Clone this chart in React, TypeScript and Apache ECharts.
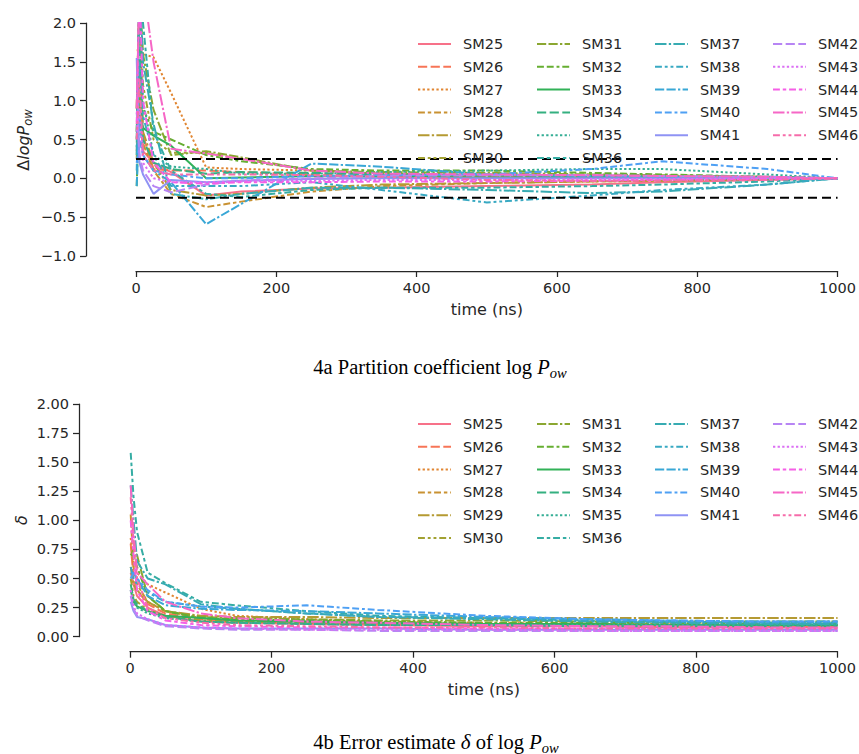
import React, { useEffect, useRef } from "react";
import * as echarts from "echarts";

// Sampling times of the convergence analysis (ns)
const TIME_NS = [1, 5, 10, 25, 50, 100, 150, 250, 350, 500, 650, 750, 900, 1000];

const MOLECULES = [
  "SM25", "SM26", "SM27", "SM28", "SM29", "SM30", "SM31", "SM32", "SM33", "SM34", "SM35",
  "SM36", "SM37", "SM38", "SM39", "SM40", "SM41", "SM42", "SM43", "SM44", "SM45", "SM46",
];

// Δ log Pow: running estimate minus the final (1000 ns) estimate
const DLOGP_SM25 = [0.35, 1.0, 0.35, 0.2, 0.08, -0.22, -0.17, -0.13, -0.12, -0.1, -0.08, -0.05, -0.02, 0];
const DLOGP_SM26 = [0.9, 2.5, 0.55, 0.12, 0.1, 0.1, 0.08, 0.05, 0.03, 0.02, 0.02, 0.01, 0.01, 0];
const DLOGP_SM27 = [1.65, 1.65, 1.6, 1.56, 1.1, 0.14, 0.12, 0.1, 0.06, 0.03, 0.02, 0.01, 0.0, 0];
const DLOGP_SM28 = [0.5, 1.3, 0.45, 0.1, -0.2, -0.37, -0.3, -0.17, -0.1, -0.06, -0.04, -0.03, -0.01, 0];
const DLOGP_SM29 = [0.25, 1.5, 0.6, 0.2, -0.15, -0.22, -0.2, -0.12, -0.08, -0.06, -0.04, -0.03, -0.01, 0];
const DLOGP_SM30 = [0.6, 2.3, 1.2, 0.5, 0.33, 0.33, 0.25, 0.1, 0.06, 0.05, 0.04, 0.03, 0.01, 0];
const DLOGP_SM31 = [0.9, 2.4, 1.6, 0.88, 0.3, 0.35, 0.27, 0.1, 0.08, 0.07, 0.05, 0.04, 0.02, 0];
const DLOGP_SM32 = [-0.1, 1.1, 0.9, 0.6, 0.5, 0.3, 0.22, 0.12, 0.1, 0.1, 0.07, 0.05, 0.02, 0];
const DLOGP_SM33 = [0.7, 0.7, 0.65, 0.55, 0.42, 0.0, 0.01, 0.03, 0.02, 0.01, 0.01, 0.0, 0.0, 0];
const DLOGP_SM34 = [0.6, 1.8, 0.5, 0.2, 0.12, 0.06, 0.08, 0.07, 0.05, 0.04, 0.03, 0.02, 0.01, 0];
const DLOGP_SM35 = [0.4, 2.5, 1.0, 0.3, 0.15, 0.12, 0.06, 0.06, 0.08, 0.1, 0.12, 0.12, 0.05, 0];
const DLOGP_SM36 = [0.5, 2.5, 2.0, 0.6, 0.1, -0.2, -0.24, -0.15, -0.12, -0.12, -0.1, -0.08, -0.04, 0];
const DLOGP_SM37 = [0.3, 2.5, 1.5, 0.7, -0.2, -0.27, -0.2, -0.12, -0.12, -0.15, -0.19, -0.17, -0.08, 0];
const DLOGP_SM38 = [0.1, 1.5, 0.8, 0.3, -0.1, -0.1, -0.1, -0.05, -0.15, -0.31, -0.22, -0.15, -0.08, 0];
const DLOGP_SM39 = [-0.1, 0.8, 0.3, 0.1, -0.05, -0.59, -0.33, 0.19, 0.15, 0.05, 0.03, 0.02, 0.01, 0];
const DLOGP_SM40 = [0.2, 0.5, 0.3, 0.1, 0.05, 0.0, 0.0, 0.03, 0.04, 0.05, 0.12, 0.22, 0.12, 0];
const DLOGP_SM41 = [1.55, 0.2, 0.05, -0.2, -0.02, -0.05, -0.03, -0.01, 0.0, 0.0, 0.0, 0.0, 0.0, 0];
const DLOGP_SM42 = [0.85, 0.3, 0.1, -0.1, -0.18, -0.08, -0.03, 0.0, 0.03, 0.04, 0.04, 0.03, 0.02, 0];
const DLOGP_SM43 = [0.6, 0.9, 0.2, 0.0, -0.05, -0.05, -0.04, -0.03, -0.02, -0.02, -0.01, -0.01, 0.0, 0];
const DLOGP_SM44 = [0.7, 2.5, 1.0, 0.2, -0.05, -0.07, -0.05, -0.05, -0.04, -0.04, -0.03, -0.02, -0.01, 0];
const DLOGP_SM45 = [0.9, 2.5, 2.5, 1.5, 0.38, 0.32, 0.25, 0.1, 0.06, 0.05, 0.04, 0.03, 0.02, 0];
const DLOGP_SM46 = [0.5, 1.3, 0.3, 0.1, 0.05, 0.05, 0.05, 0.04, 0.02, -0.02, -0.03, -0.03, -0.02, 0];

// δ: error estimate of log Pow
const DELTA_SM25 = [0.55, 0.45, 0.35, 0.25, 0.18, 0.13, 0.12, 0.11, 0.1, 0.09, 0.09, 0.08, 0.08, 0.08];
const DELTA_SM26 = [0.8, 0.5, 0.4, 0.28, 0.2, 0.15, 0.13, 0.12, 0.11, 0.1, 0.1, 0.09, 0.09, 0.09];
const DELTA_SM27 = [0.85, 0.6, 0.55, 0.45, 0.38, 0.24, 0.18, 0.15, 0.13, 0.12, 0.11, 0.11, 0.1, 0.1];
const DELTA_SM28 = [1.05, 0.6, 0.45, 0.3, 0.22, 0.16, 0.14, 0.13, 0.12, 0.11, 0.1, 0.1, 0.1, 0.1];
const DELTA_SM29 = [0.6, 0.45, 0.4, 0.3, 0.22, 0.18, 0.17, 0.17, 0.16, 0.16, 0.16, 0.16, 0.16, 0.16];
const DELTA_SM30 = [0.5, 0.35, 0.3, 0.23, 0.18, 0.14, 0.13, 0.12, 0.12, 0.11, 0.11, 0.11, 0.1, 0.1];
const DELTA_SM31 = [0.7, 0.75, 0.7, 0.35, 0.22, 0.17, 0.16, 0.15, 0.14, 0.14, 0.13, 0.13, 0.13, 0.13];
const DELTA_SM32 = [0.7, 0.7, 0.6, 0.35, 0.22, 0.16, 0.15, 0.14, 0.13, 0.12, 0.12, 0.12, 0.11, 0.11];
const DELTA_SM33 = [0.4, 0.3, 0.26, 0.22, 0.18, 0.16, 0.14, 0.13, 0.12, 0.11, 0.11, 0.1, 0.1, 0.1];
const DELTA_SM34 = [0.45, 0.32, 0.28, 0.22, 0.17, 0.13, 0.12, 0.11, 0.1, 0.1, 0.09, 0.09, 0.09, 0.09];
const DELTA_SM35 = [0.4, 0.3, 0.25, 0.2, 0.16, 0.13, 0.12, 0.11, 0.1, 0.1, 0.1, 0.1, 0.1, 0.1];
const DELTA_SM36 = [1.58, 1.2, 0.9, 0.55, 0.46, 0.3, 0.27, 0.22, 0.18, 0.16, 0.14, 0.13, 0.12, 0.12];
const DELTA_SM37 = [1.3, 1.0, 0.65, 0.5, 0.45, 0.28, 0.24, 0.2, 0.17, 0.15, 0.13, 0.12, 0.11, 0.11];
const DELTA_SM38 = [0.6, 0.5, 0.45, 0.38, 0.3, 0.26, 0.24, 0.2, 0.17, 0.16, 0.14, 0.13, 0.12, 0.12];
const DELTA_SM39 = [0.55, 0.55, 0.5, 0.35, 0.27, 0.24, 0.23, 0.22, 0.2, 0.17, 0.15, 0.14, 0.13, 0.13];
const DELTA_SM40 = [0.5, 0.55, 0.5, 0.4, 0.3, 0.26, 0.25, 0.27, 0.23, 0.18, 0.15, 0.14, 0.13, 0.13];
const DELTA_SM41 = [0.3, 0.22, 0.17, 0.15, 0.1, 0.08, 0.07, 0.07, 0.07, 0.06, 0.06, 0.06, 0.06, 0.06];
const DELTA_SM42 = [0.35, 0.24, 0.18, 0.14, 0.09, 0.07, 0.06, 0.06, 0.05, 0.05, 0.05, 0.05, 0.05, 0.05];
const DELTA_SM43 = [0.4, 0.26, 0.2, 0.15, 0.1, 0.08, 0.07, 0.06, 0.06, 0.06, 0.05, 0.05, 0.05, 0.05];
const DELTA_SM44 = [1.0, 0.7, 0.4, 0.22, 0.14, 0.1, 0.09, 0.08, 0.08, 0.07, 0.07, 0.07, 0.07, 0.07];
const DELTA_SM45 = [1.3, 0.9, 0.55, 0.45, 0.3, 0.2, 0.16, 0.13, 0.12, 0.1, 0.09, 0.09, 0.08, 0.08];
const DELTA_SM46 = [1.2, 0.8, 0.5, 0.25, 0.16, 0.12, 0.1, 0.09, 0.08, 0.08, 0.07, 0.07, 0.07, 0.07];

const DLOGP = [
  DLOGP_SM25, DLOGP_SM26, DLOGP_SM27, DLOGP_SM28, DLOGP_SM29, DLOGP_SM30, DLOGP_SM31, DLOGP_SM32,
  DLOGP_SM33, DLOGP_SM34, DLOGP_SM35, DLOGP_SM36, DLOGP_SM37, DLOGP_SM38, DLOGP_SM39, DLOGP_SM40,
  DLOGP_SM41, DLOGP_SM42, DLOGP_SM43, DLOGP_SM44, DLOGP_SM45, DLOGP_SM46,
];
const DELTA = [
  DELTA_SM25, DELTA_SM26, DELTA_SM27, DELTA_SM28, DELTA_SM29, DELTA_SM30, DELTA_SM31, DELTA_SM32,
  DELTA_SM33, DELTA_SM34, DELTA_SM35, DELTA_SM36, DELTA_SM37, DELTA_SM38, DELTA_SM39, DELTA_SM40,
  DELTA_SM41, DELTA_SM42, DELTA_SM43, DELTA_SM44, DELTA_SM45, DELTA_SM46,
];

// Tolerance band of ±0.25 log units across the whole run
const TOLERANCE = [0.25, -0.25];
const TOLERANCE_SPAN = [0, 1000];

// ---- styling -------------------------------------------------------------

// HUSL (seaborn's husl_palette) colour conversion
const HUSL_M = [
  [3.2406, -1.5372, -0.4986],
  [-0.9689, 1.8758, 0.0415],
  [0.0557, -0.204, 1.057],
];
function maxChroma(L: number, H: number) {
  const hrad = (H / 180) * Math.PI;
  const sinH = Math.sin(hrad);
  const cosH = Math.cos(hrad);
  const sub1 = Math.pow(L + 16, 3) / 1560896;
  const sub2 = sub1 > 0.008856 ? sub1 : L / 903.3;
  let result = Infinity;
  for (const [m1, m2, m3] of HUSL_M) {
    const top = (0.99915 * m1 + 1.05122 * m2 + 1.1446 * m3) * sub2;
    const rbottom = 0.8633 * m3 - 0.17266 * m2;
    const lbottom = 0.12949 * m3 - 0.38848 * m1;
    const bottom = (rbottom * sinH + lbottom * cosH) * sub2;
    for (const t of [0, 1]) {
      const C = (L * (top - 1.05122 * t)) / (bottom + 0.17266 * sinH * t);
      if (C > 0 && C < result) result = C;
    }
  }
  return result;
}
function huslToHex(H: number, S: number, L: number) {
  const C = (maxChroma(L, H) / 100) * S;
  const hrad = (H / 180) * Math.PI;
  const U = Math.cos(hrad) * C;
  const V = Math.sin(hrad) * C;
  const t = (L + 16) / 116;
  const t3 = t * t * t;
  const Y = t3 > 0.008856 ? t3 : (116 * t - 16) / 903.3;
  const varU = U / (13 * L) + 0.19784;
  const varV = V / (13 * L) + 0.46834;
  const X = -(9 * Y * varU) / ((varU - 4) * varV - varU * varV);
  const Z = (9 * Y - 15 * varV * Y - varV * X) / (3 * varV);
  const rgb = HUSL_M.map(([a, b, c]) => {
    const lin = a * X + b * Y + c * Z;
    const v = lin <= 0.0031308 ? 12.92 * lin : 1.055 * Math.pow(lin, 1 / 2.4) - 0.055;
    return Math.round(Math.min(1, Math.max(0, v)) * 255);
  });
  return "#" + rgb.map((v) => v.toString(16).padStart(2, "0")).join("");
}
function huslPalette(n: number) {
  const out: string[] = [];
  for (let i = 0; i < n; i++) {
    const h = ((i / n + 0.01) % 1) * 359;
    out.push(huslToHex(h, 0.9 * 99, 0.65 * 99));
  }
  return out;
}
const COLORS = huslPalette(MOLECULES.length);

// seaborn's default dash sequence (in units of line width)
const DASH_UNITS: (number[] | null)[] = [
  null,
  [4, 1.5],
  [1, 1],
  [3, 1.25, 1.5, 1.25],
  [5, 1, 1, 1],
  [3, 1.25, 1.25, 1.25, 1.25, 1.25],
  [4, 1, 4, 1, 1, 1],
  [3, 1.25, 3, 1.25, 1.25, 1.25],
];
const DASH_SCALE = 2.3;
const LINE_W = 2;
const dashFor = (i: number) => {
  const d = DASH_UNITS[i % DASH_UNITS.length];
  return d ? d.map((v) => v * DASH_SCALE) : "solid";
};

const INK = "#262626";
const SANS = "DejaVu Sans";
const SERIF = "Liberation Serif";
const FS = 14.5; // tick and legend labels
const FS_LABEL = 16; // axis titles

const LEGEND_COLUMNS = [
  MOLECULES.slice(0, 6),
  MOLECULES.slice(6, 12),
  MOLECULES.slice(12, 17),
  MOLECULES.slice(17),
];
const LEGEND_X = [417, 536, 654, 772];

function legendBlock(top: number) {
  return LEGEND_COLUMNS.map((names, c) => ({
    orient: "vertical",
    left: LEGEND_X[c],
    top,
    padding: 0,
    itemGap: 6.8,
    itemWidth: 33,
    itemHeight: 14,
    selectedMode: false,
    data: names,
    itemStyle: { opacity: 0 },
    textStyle: {
      fontFamily: SANS,
      fontSize: FS,
      color: INK,
      lineHeight: 16,
      padding: [0, 0, 0, 7],
    },
  }));
}

function xAxisFor(gridIndex: number) {
  return {
    type: "value",
    gridIndex,
    min: 0,
    max: 1000,
    interval: 200,
    offset: 15,
    axisLine: { show: true, onZero: false, lineStyle: { color: INK, width: 1.25 } },
    axisTick: { show: true, length: 6, lineStyle: { color: INK, width: 1.25 } },
    axisLabel: {
      fontFamily: SANS,
      fontSize: FS,
      color: INK,
      margin: 9,
      formatter: (v: number) => String(v),
    },
    splitLine: { show: false },
    name: "time (ns)",
    nameLocation: "middle",
    nameGap: 30,
    nameTextStyle: { fontFamily: SANS, fontSize: FS_LABEL, color: INK },
  };
}

function yAxisFor(gridIndex: number, min: number, max: number, interval: number, digits: number, offset: number) {
  return {
    type: "value",
    gridIndex,
    min,
    max,
    interval,
    offset,
    axisLine: { show: true, onZero: false, lineStyle: { color: INK, width: 1.25 } },
    axisTick: { show: true, length: 6, lineStyle: { color: INK, width: 1.25 } },
    axisLabel: {
      fontFamily: SANS,
      fontSize: FS,
      color: INK,
      margin: 10,
      formatter: (v: number) => v.toFixed(digits).replace("-", "\u2212"),
    },
    splitLine: { show: false },
  };
}

function moleculeSeries(values: number[][], axisIndex: number) {
  return MOLECULES.map((name, i) => ({
    type: "line",
    name,
    xAxisIndex: axisIndex,
    yAxisIndex: axisIndex,
    data: TIME_NS.map((t, k) => [t, values[i][k]]),
    symbol: "none",
    silent: true,
    clip: true,
    color: COLORS[i],
    itemStyle: { color: COLORS[i] },
    lineStyle: { color: COLORS[i], width: LINE_W, type: dashFor(i) },
    z: 2,
  }));
}

const toleranceSeries = TOLERANCE.map((level, i) => ({
  type: "line",
  name: "tol" + i,
  xAxisIndex: 0,
  yAxisIndex: 0,
  data: TOLERANCE_SPAN.map((t) => [t, level]),
  symbol: "none",
  silent: true,
  lineStyle: { color: "#000", width: 2, type: [9, 5] },
  z: 3,
}));

const CAPTION_RICH = {
  r: { fontFamily: SERIF, fontSize: 20.5, lineHeight: 26, fill: "#000" },
  g: { fontFamily: SERIF, fontStyle: "italic", fontSize: 21, lineHeight: 26, fill: "#000" },
  i: { fontFamily: SERIF, fontStyle: "italic", fontSize: 20.5, lineHeight: 26, fill: "#000" },
  s: { fontFamily: SERIF, fontStyle: "italic", fontSize: 14.5, lineHeight: 14.5, verticalAlign: "bottom", fill: "#000" },
};

const graphics = [
  {
    type: "text",
    x: 23,
    y: 140,
    rotation: Math.PI / 2,
    style: {
      text: "{u|Δ}{i|logP}{s|ow}",
      align: "center",
      verticalAlign: "middle",
      rich: {
        u: { fontFamily: SANS, fontSize: FS_LABEL, lineHeight: 21, fill: INK },
        i: { fontFamily: SANS, fontStyle: "italic", fontSize: FS_LABEL, lineHeight: 21, fill: INK },
        s: { fontFamily: SANS, fontStyle: "italic", fontSize: 11.5, lineHeight: 11.5, verticalAlign: "bottom", fill: INK },
      },
    },
  },
  {
    type: "text",
    x: 21,
    y: 520,
    rotation: Math.PI / 2,
    style: {
      text: "δ",
      align: "center",
      verticalAlign: "middle",
      fontFamily: SANS,
      fontStyle: "italic",
      fontSize: FS_LABEL,
      fill: INK,
    },
  },
  {
    type: "text",
    x: 440,
    y: 367,
    style: {
      text: "{r|4a Partition coefficient log }{i|P}{s|ow}",
      align: "center",
      verticalAlign: "middle",
      rich: CAPTION_RICH,
    },
  },
  {
    type: "text",
    x: 436,
    y: 742,
    style: {
      text: "{r|4b Error estimate }{g|δ}{r| of log }{i|P}{s|ow}",
      align: "center",
      verticalAlign: "middle",
      rich: CAPTION_RICH,
    },
  },
];

export default function App() {
  const ref = useRef<HTMLDivElement>(null);
  useEffect(() => {
    if (!ref.current) return;
    const chart = echarts.init(ref.current, undefined, { renderer: "svg" });
    chart.setOption({
      animation: false,
      backgroundColor: "#ffffff",
      textStyle: { fontFamily: SANS },
      grid: [
        { left: 136, top: 23, width: 702, height: 233 },
        { left: 130, top: 404, width: 708, height: 232.7 },
      ],
      xAxis: [xAxisFor(0), xAxisFor(1)],
      yAxis: [yAxisFor(0, -1, 2, 0.5, 1, 50), yAxisFor(1, 0, 2, 0.25, 2, 51)],
      legend: [...legendBlock(36), ...legendBlock(416)],
      series: [...moleculeSeries(DLOGP, 0), ...toleranceSeries, ...moleculeSeries(DELTA, 1)],
      graphic: graphics,
    });
    return () => chart.dispose();
  }, []);
  return (
    <div
      ref={ref}
      style={{ position: "fixed", left: 0, top: 0, width: 859, height: 754, background: "#fff" }}
    />
  );
}
